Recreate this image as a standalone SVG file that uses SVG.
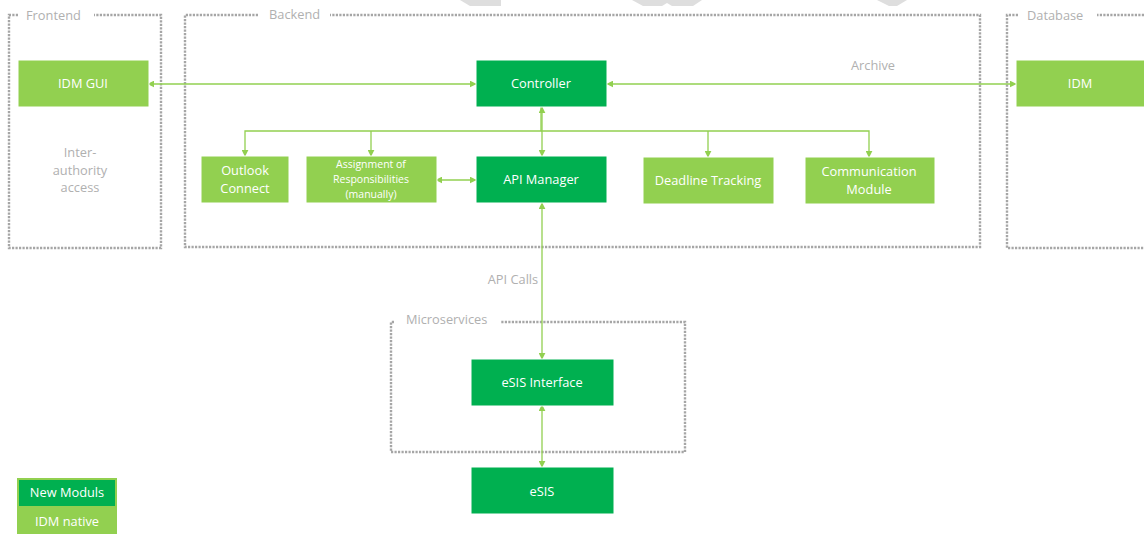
<svg xmlns="http://www.w3.org/2000/svg" width="1144" height="534" viewBox="0 0 1144 534">
  <style>
    .zone { fill: none; stroke: #a6a6a6; stroke-width: 2.4; stroke-dasharray: 2.2 1.3; }
    .zlabel { font-family: "Open Sans", "Noto Sans", sans-serif; font-size: 12.8px; fill: #b0b0b0; }
    .note { font-family: "Open Sans", "Noto Sans", sans-serif; font-size: 12.8px; fill: #b0b0b0; text-anchor: middle; }
    .native { fill: #92d050; stroke: #ffffff; stroke-width: 1; }
    .newmod { fill: #00b050; stroke: #ffffff; stroke-width: 1; }
    .label { font-family: "Open Sans", "Noto Sans", sans-serif; font-size: 12.8px; fill: #ffffff; text-anchor: middle; }
    .small { font-size: 10.5px; }
    .link { fill: none; stroke: #92d050; stroke-width: 1.3; }
    .ghost { fill: #dedede; }
  </style>
  <defs>
    <marker id="arrow" viewBox="0 0 10 10" refX="9" refY="5" markerWidth="7" markerHeight="7" markerUnits="userSpaceOnUse" orient="auto-start-reverse">
      <path d="M0,0 L10,5 L0,10 z" fill="#92d050"/>
    </marker>
  </defs>

  <rect width="1144" height="534" fill="#ffffff"/>

  <!-- faint shapes along the top edge -->
  <g id="top-shapes">
    <polygon class="ghost" points="460,0 501,0 501,6 470,6"/>
    <polygon class="ghost" points="632,0 702,0 693,6 672,6 667,3 662,6 643,6"/>
    <polygon class="ghost" points="877,0 907,0 897,6 889,6"/>
  </g>

  <!-- zones -->
  <g id="zone-frontend">
    <path class="zone" d="M18,15 H9 V248 H161 V15 H94"/>
    <text class="zlabel" x="26" y="20">Frontend</text>
  </g>
  <g id="zone-backend">
    <path class="zone" d="M258,15 H185 V247 H980 V15 H330"/>
    <text class="zlabel" x="269" y="19">Backend</text>
  </g>
  <g id="zone-database">
    <path class="zone" d="M1018,15 H1007 V248 H1150 M1144,15 H1097"/>
    <text class="zlabel" x="1027" y="20">Database</text>
  </g>
  <g id="zone-microservices">
    <path class="zone" d="M394,322 H391 V452 H685 V322 H500"/>
    <text class="zlabel" x="406" y="324">Microservices</text>
  </g>

  <!-- connectors -->
  <g id="connectors">
    <line class="link" x1="148" y1="84" x2="476" y2="84" marker-start="url(#arrow)" marker-end="url(#arrow)"/>
    <line class="link" x1="607" y1="84" x2="1016" y2="84" marker-start="url(#arrow)" marker-end="url(#arrow)"/>
    <line class="link" x1="542" y1="107" x2="542" y2="156" marker-start="url(#arrow)" marker-end="url(#arrow)"/>
    <path class="link" d="M541,107 V131 H245 V156" marker-end="url(#arrow)"/>
    <path class="link" d="M371,131 V156" marker-end="url(#arrow)"/>
    <path class="link" d="M541,131 H869 V157" marker-end="url(#arrow)"/>
    <path class="link" d="M708,131 V157" marker-end="url(#arrow)"/>
    <line class="link" x1="436" y1="180" x2="476" y2="180" marker-start="url(#arrow)" marker-end="url(#arrow)"/>
    <line class="link" x1="542" y1="203" x2="542" y2="359" marker-start="url(#arrow)" marker-end="url(#arrow)"/>
    <line class="link" x1="542" y1="405" x2="542" y2="467" marker-start="url(#arrow)" marker-end="url(#arrow)"/>
    <text class="note" x="513" y="284">API Calls</text>
    <text class="note" x="873" y="70">Archive</text>
  </g>

  <!-- nodes -->
  <g id="node-idm-gui">
    <rect class="native" x="18" y="60" width="131" height="47"/>
    <text class="label" x="83" y="88">IDM GUI</text>
  </g>
  <g id="inter-authority">
    <text class="note" x="80" y="157">Inter-</text>
    <text class="note" x="80" y="175">authority</text>
    <text class="note" x="80" y="192">access</text>
  </g>
  <g id="node-controller">
    <rect class="newmod" x="476" y="60" width="131" height="47"/>
    <text class="label" x="541" y="88">Controller</text>
  </g>
  <g id="node-idm">
    <rect class="native" x="1016" y="60" width="130" height="47"/>
    <text class="label" x="1080" y="88">IDM</text>
  </g>
  <g id="node-outlook">
    <rect class="native" x="201" y="156" width="88" height="47"/>
    <text class="label" x="245" y="175">Outlook</text>
    <text class="label" x="245" y="193">Connect</text>
  </g>
  <g id="node-assignment">
    <rect class="native" x="306" y="156" width="131" height="47"/>
    <text class="label small" x="371" y="168">Assignment of</text>
    <text class="label small" x="371" y="183">Responsibilities</text>
    <text class="label small" x="371" y="198">(manually)</text>
  </g>
  <g id="node-api-manager">
    <rect class="newmod" x="476" y="156" width="131" height="47"/>
    <text class="label" x="541" y="184">API Manager</text>
  </g>
  <g id="node-deadline">
    <rect class="native" x="643" y="157" width="131" height="47"/>
    <text class="label" x="708" y="185">Deadline Tracking</text>
  </g>
  <g id="node-communication">
    <rect class="native" x="805" y="157" width="130" height="47"/>
    <text class="label" x="869" y="176">Communication</text>
    <text class="label" x="869" y="194">Module</text>
  </g>
  <g id="node-esis-interface">
    <rect class="newmod" x="471" y="359" width="143" height="47"/>
    <text class="label" x="542" y="387">eSIS Interface</text>
  </g>
  <g id="node-esis">
    <rect class="newmod" x="471" y="467" width="143" height="47"/>
    <text class="label" x="542" y="496">eSIS</text>
  </g>

  <!-- legend -->
  <g id="legend">
    <rect x="18" y="479" width="98" height="28" fill="#00b050" stroke="#92d050" stroke-width="2"/>
    <text class="label" x="67" y="497">New Moduls</text>
    <rect x="17" y="508" width="100" height="26" fill="#92d050"/>
    <text class="label" x="67" y="526">IDM native</text>
  </g>
</svg>
